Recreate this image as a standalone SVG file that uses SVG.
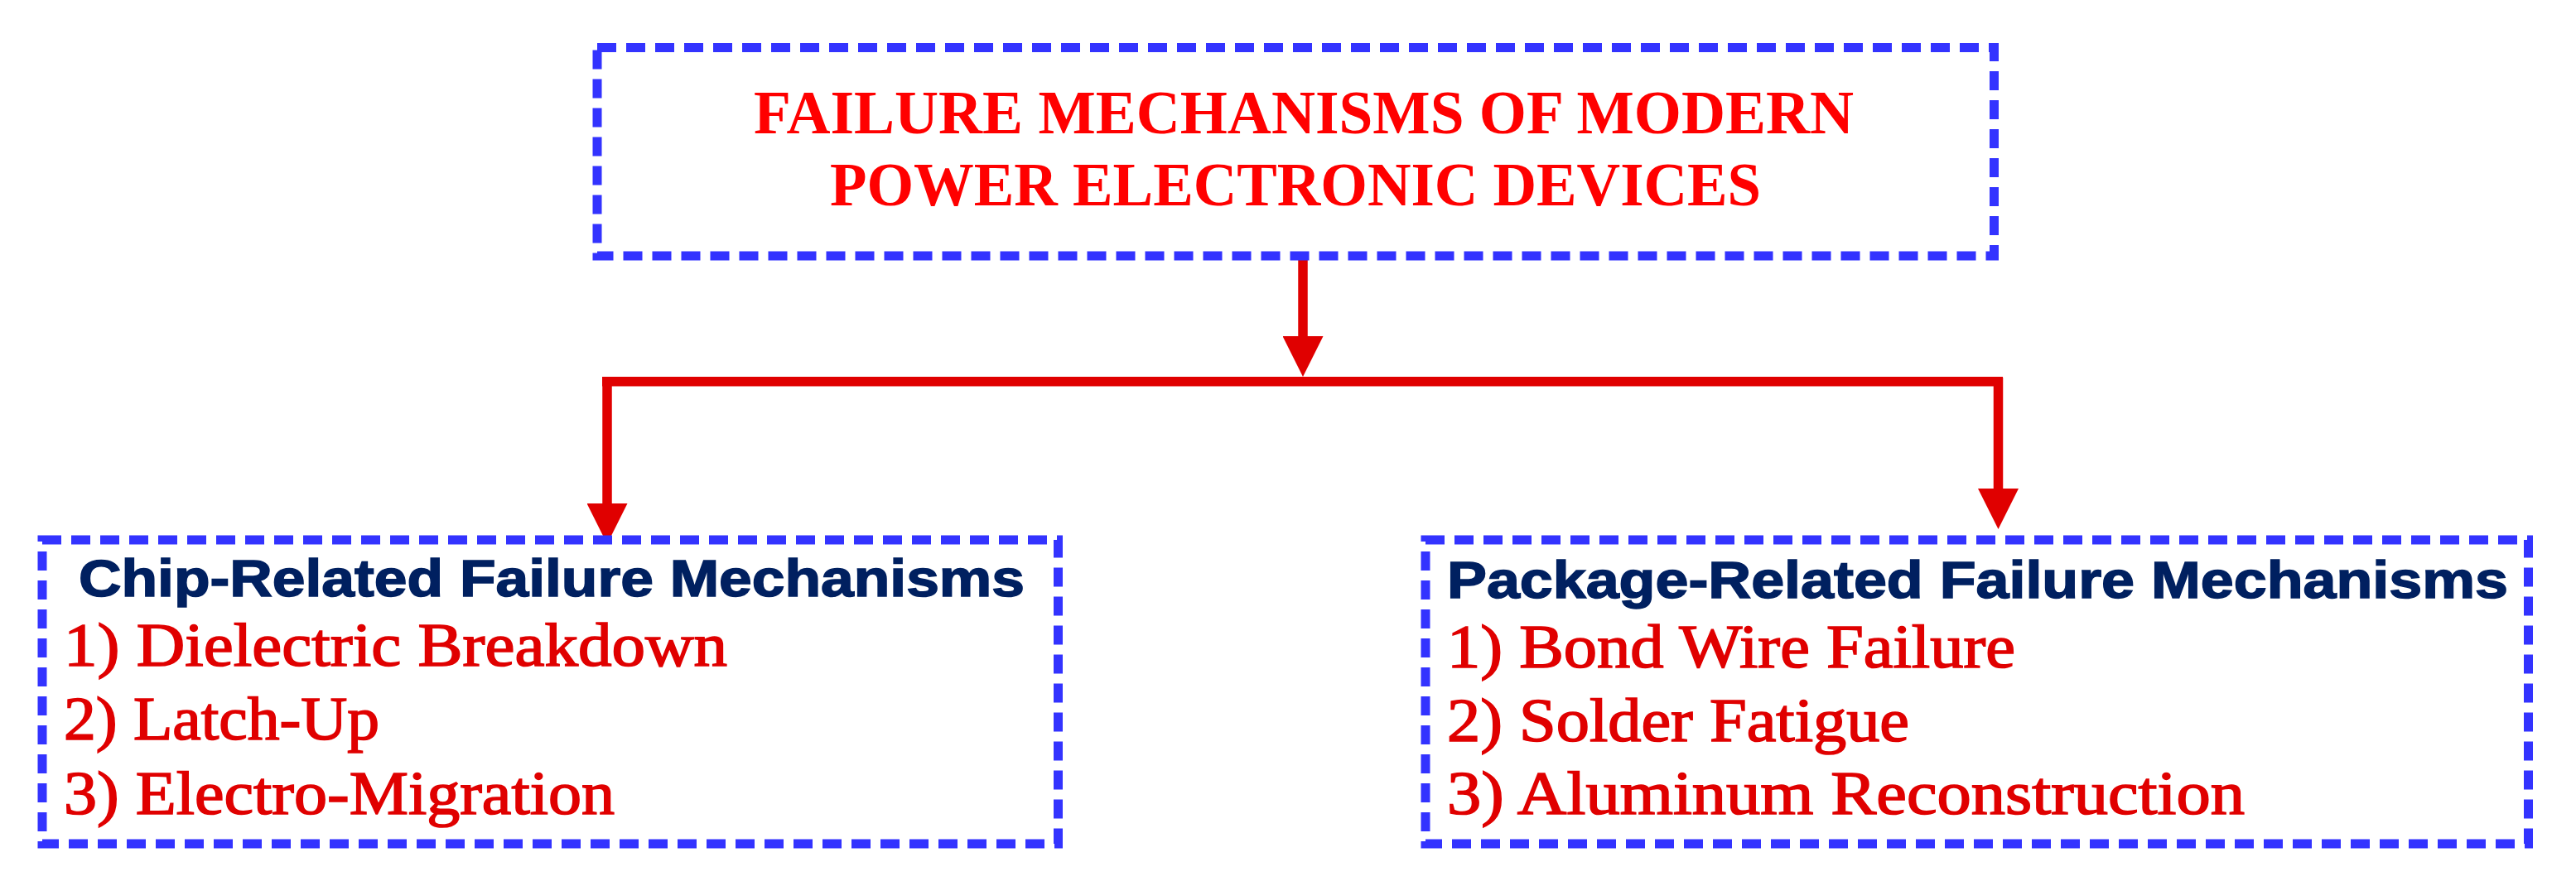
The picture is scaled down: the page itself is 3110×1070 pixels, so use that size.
<svg xmlns="http://www.w3.org/2000/svg" width="3110" height="1070" viewBox="0 0 3110 1070">
  <style>
    .box { fill: #FFFFFF; stroke: #3333FF; stroke-width: 11; stroke-dasharray: 23 12; }
    .title { font-family: "Liberation Serif", "Times New Roman", serif; font-weight: bold; font-size: 73px; fill: #FF0000; }
    .head { font-family: "Liberation Sans", Arial, sans-serif; font-weight: bold; font-size: 63px; fill: #002060; stroke: #002060; stroke-width: 1.5; }
    .item { font-family: "Liberation Serif", "Times New Roman", serif; font-size: 74px; fill: #E00000; stroke: #E00000; stroke-width: 1.6; }
    .conn { fill: none; stroke: #E00000; stroke-width: 11.5; }
  </style>
  <defs>
    <marker id="arrow" viewBox="0 0 49 49" markerUnits="userSpaceOnUse" markerWidth="49" markerHeight="49" refX="0" refY="24.5" orient="auto">
      <path d="M0,0 L49,24.5 L0,49 Z" fill="#E00000"/>
    </marker>
  </defs>
  <rect width="3110" height="1070" fill="#FFFFFF"/>

  <g id="connectors">
    <path class="conn" d="M1573,314 V406" marker-end="url(#arrow)"/>
    <path class="conn" d="M727,460.75 H2418" stroke-width="12"/>
    <path class="conn" d="M733,456 V608" marker-end="url(#arrow)"/>
    <path class="conn" d="M2412.5,456 V590" marker-end="url(#arrow)"/>
  </g>

  <g id="node-root">
    <rect class="box" x="721" y="57.5" width="1686.5" height="251.5"/>
    <text class="title" x="910" y="161" textLength="1328" lengthAdjust="spacingAndGlyphs">FAILURE MECHANISMS OF MODERN</text>
    <text class="title" x="1002" y="248" textLength="1124" lengthAdjust="spacingAndGlyphs">POWER ELECTRONIC DEVICES</text>
  </g>

  <g id="node-chip">
    <rect class="box" x="51" y="652" width="1226.5" height="367"/>
    <text class="head" x="95" y="720" textLength="1142" lengthAdjust="spacingAndGlyphs">Chip-Related Failure Mechanisms</text>
    <text class="item" x="77" y="804" textLength="801" lengthAdjust="spacingAndGlyphs">1) Dielectric Breakdown</text>
    <text class="item" x="77" y="893" textLength="381" lengthAdjust="spacingAndGlyphs">2) Latch-Up</text>
    <text class="item" x="77" y="983" textLength="665" lengthAdjust="spacingAndGlyphs">3) Electro-Migration</text>
  </g>

  <g id="node-package">
    <rect class="box" x="1721" y="652" width="1331.5" height="367"/>
    <text class="head" x="1747" y="722" textLength="1281" lengthAdjust="spacingAndGlyphs">Package-Related Failure Mechanisms</text>
    <text class="item" x="1747" y="806" textLength="686" lengthAdjust="spacingAndGlyphs">1) Bond Wire Failure</text>
    <text class="item" x="1747" y="895" textLength="558" lengthAdjust="spacingAndGlyphs">2) Solder Fatigue</text>
    <text class="item" x="1747" y="983" textLength="963" lengthAdjust="spacingAndGlyphs">3) Aluminum Reconstruction</text>
  </g>
</svg>
